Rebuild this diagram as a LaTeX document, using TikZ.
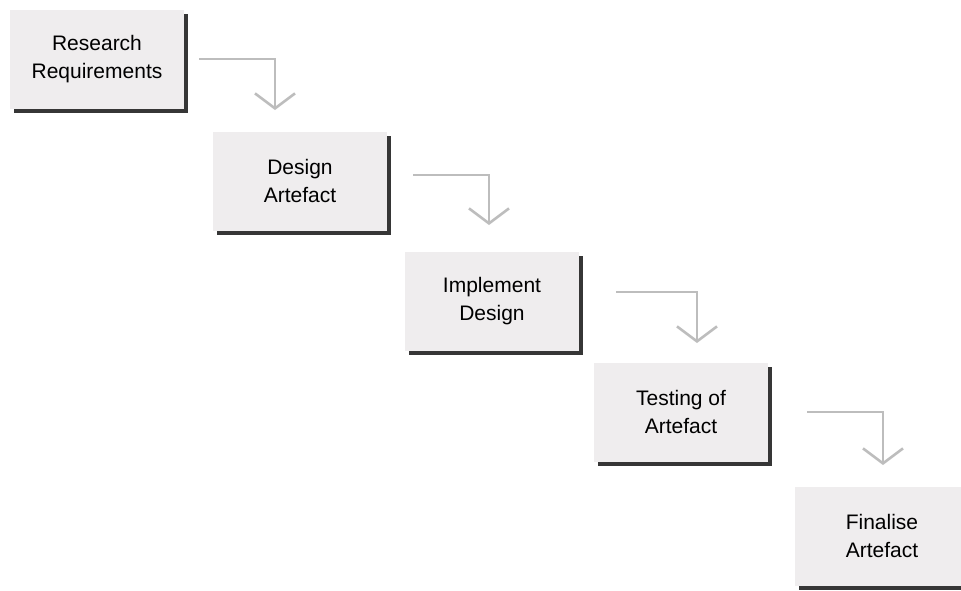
\documentclass[tikz,border=0pt]{standalone}
\usepackage{fontspec}
\setmainfont{Liberation Sans}
\usetikzlibrary{shadows,arrows.meta}
\definecolor{boxfill}{HTML}{EFEDEE}
\definecolor{boxshade}{HTML}{363636}
\definecolor{flowgray}{HTML}{BDBDBD}

\begin{document}
\begin{tikzpicture}[x=1pt,y=1pt,align=center,
    stage/.style={fill=boxfill,minimum width=174pt,minimum height=99pt,inner sep=0pt,
        font=\fontsize{21}{28}\selectfont,text=black,
        drop shadow={shadow xshift=4pt,shadow yshift=-4.5pt,fill=boxshade,opacity=1}},
    flow/.style={draw=flowgray,line width=2.6pt,
        -{Straight Barb[length=15pt,width=40pt,line width=2.6pt]}}]
        \useasboundingbox (0,0) rectangle (961,-590);
        \node[stage] (r) at (97,-59) {Research\\Requirements};
        \node[stage] (d) at (300,-181) {Design\\Artefact};
        \node[stage] (i) at (492,-301) {Implement\\Design};
        \node[stage] (t) at (681,-412) {Testing of\\Artefact};
        \node[stage] (f) at (882,-536) {Finalise\\Artefact};

        \coordinate (t1) at (275,-110);
        \coordinate (t2) at (489,-225);
        \coordinate (t3) at (697,-343);
        \coordinate (t4) at (883,-465);

        \draw[flow] ([xshift=15pt]r.east) -| (t1);
        \draw[flow] ([xshift=26pt,yshift=6pt]d.east) -| (t2);
        \draw[flow] ([xshift=37pt,yshift=9pt]i.east) -| (t3);
        \draw[flow] ([xshift=39pt]t.east) -| (t4);
    \end{tikzpicture}
\end{document}
